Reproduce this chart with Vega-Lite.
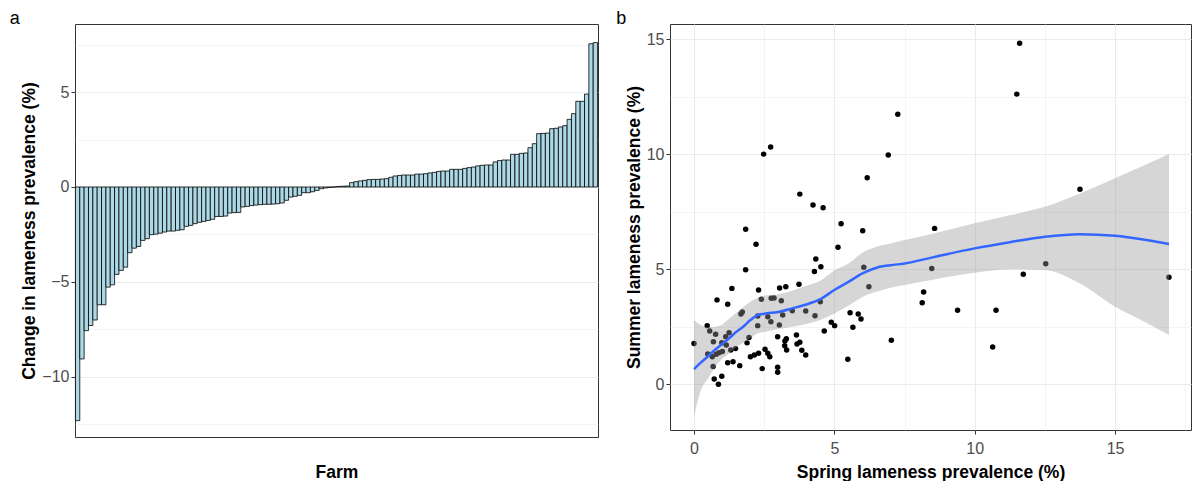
{
  "$schema": "https://vega.github.io/schema/vega-lite/v6.json",
  "background": "white",
  "padding": {"left": 9, "top": 9, "right": 0, "bottom": 0},
  "spacing": 16,
  "datasets": {
    "change": [
      {"farm": 1, "change": -12.3}, {"farm": 2, "change": -9.05}, {"farm": 3, "change": -7.56}, {"farm": 4, "change": -7.29}, {"farm": 5, "change": -7.0},
      {"farm": 6, "change": -6.2}, {"farm": 7, "change": -6.2}, {"farm": 8, "change": -5.27}, {"farm": 9, "change": -5.15}, {"farm": 10, "change": -4.6},
      {"farm": 11, "change": -4.39}, {"farm": 12, "change": -4.22}, {"farm": 13, "change": -3.46}, {"farm": 14, "change": -3.22}, {"farm": 15, "change": -3.13},
      {"farm": 16, "change": -2.81}, {"farm": 17, "change": -2.72}, {"farm": 18, "change": -2.51}, {"farm": 19, "change": -2.48}, {"farm": 20, "change": -2.43},
      {"farm": 21, "change": -2.37}, {"farm": 22, "change": -2.32}, {"farm": 23, "change": -2.32}, {"farm": 24, "change": -2.28}, {"farm": 25, "change": -2.25},
      {"farm": 26, "change": -2.07}, {"farm": 27, "change": -2.02}, {"farm": 28, "change": -1.93}, {"farm": 29, "change": -1.86}, {"farm": 30, "change": -1.81},
      {"farm": 31, "change": -1.76}, {"farm": 32, "change": -1.7}, {"farm": 33, "change": -1.55}, {"farm": 34, "change": -1.55}, {"farm": 35, "change": -1.53},
      {"farm": 36, "change": -1.37}, {"farm": 37, "change": -1.35}, {"farm": 38, "change": -1.34}, {"farm": 39, "change": -1.05}, {"farm": 40, "change": -1.02},
      {"farm": 41, "change": -0.98}, {"farm": 42, "change": -0.95}, {"farm": 43, "change": -0.93}, {"farm": 44, "change": -0.91}, {"farm": 45, "change": -0.91},
      {"farm": 46, "change": -0.9}, {"farm": 47, "change": -0.88}, {"farm": 48, "change": -0.84}, {"farm": 49, "change": -0.7}, {"farm": 50, "change": -0.53},
      {"farm": 51, "change": -0.49}, {"farm": 52, "change": -0.44}, {"farm": 53, "change": -0.3}, {"farm": 54, "change": -0.3}, {"farm": 55, "change": -0.25},
      {"farm": 56, "change": -0.18}, {"farm": 57, "change": -0.09}, {"farm": 58, "change": -0.05}, {"farm": 59, "change": -0.02}, {"farm": 60, "change": 0.0},
      {"farm": 61, "change": 0.03}, {"farm": 62, "change": 0.04}, {"farm": 63, "change": 0.05}, {"farm": 64, "change": 0.23}, {"farm": 65, "change": 0.28},
      {"farm": 66, "change": 0.32}, {"farm": 67, "change": 0.35}, {"farm": 68, "change": 0.39}, {"farm": 69, "change": 0.4}, {"farm": 70, "change": 0.4},
      {"farm": 71, "change": 0.42}, {"farm": 72, "change": 0.44}, {"farm": 73, "change": 0.51}, {"farm": 74, "change": 0.58}, {"farm": 75, "change": 0.61},
      {"farm": 76, "change": 0.63}, {"farm": 77, "change": 0.63}, {"farm": 78, "change": 0.63}, {"farm": 79, "change": 0.68}, {"farm": 80, "change": 0.68},
      {"farm": 81, "change": 0.7}, {"farm": 82, "change": 0.74}, {"farm": 83, "change": 0.77}, {"farm": 84, "change": 0.82}, {"farm": 85, "change": 0.84},
      {"farm": 86, "change": 0.84}, {"farm": 87, "change": 0.93}, {"farm": 88, "change": 0.93}, {"farm": 89, "change": 0.93}, {"farm": 90, "change": 0.98},
      {"farm": 91, "change": 1.02}, {"farm": 92, "change": 1.05}, {"farm": 93, "change": 1.11}, {"farm": 94, "change": 1.14}, {"farm": 95, "change": 1.16},
      {"farm": 96, "change": 1.16}, {"farm": 97, "change": 1.32}, {"farm": 98, "change": 1.39}, {"farm": 99, "change": 1.42}, {"farm": 100, "change": 1.42},
      {"farm": 101, "change": 1.72}, {"farm": 102, "change": 1.72}, {"farm": 103, "change": 1.77}, {"farm": 104, "change": 1.79}, {"farm": 105, "change": 2.07},
      {"farm": 106, "change": 2.28}, {"farm": 107, "change": 2.81}, {"farm": 108, "change": 2.82}, {"farm": 109, "change": 2.84}, {"farm": 110, "change": 3.07},
      {"farm": 111, "change": 3.09}, {"farm": 112, "change": 3.16}, {"farm": 113, "change": 3.23}, {"farm": 114, "change": 3.56}, {"farm": 115, "change": 3.86},
      {"farm": 116, "change": 4.51}, {"farm": 117, "change": 4.51}, {"farm": 118, "change": 4.89}, {"farm": 119, "change": 7.54}, {"farm": 120, "change": 7.6}
    ],
    "points": [
      {"spring": 11.6, "summer": 14.83}, {"spring": 11.5, "summer": 12.62}, {"spring": 7.26, "summer": 11.74}, {"spring": 2.73, "summer": 10.32},
      {"spring": 2.48, "summer": 10.01}, {"spring": 6.92, "summer": 9.97}, {"spring": 6.17, "summer": 8.98}, {"spring": 13.75, "summer": 8.48},
      {"spring": 3.77, "summer": 8.27}, {"spring": 4.24, "summer": 7.8}, {"spring": 4.6, "summer": 7.68}, {"spring": 5.24, "summer": 6.98},
      {"spring": 8.57, "summer": 6.78}, {"spring": 1.84, "summer": 6.74}, {"spring": 6.01, "summer": 6.68}, {"spring": 2.21, "summer": 6.09},
      {"spring": 5.13, "summer": 5.96}, {"spring": 4.34, "summer": 5.45}, {"spring": 12.53, "summer": 5.24}, {"spring": 4.52, "summer": 5.11},
      {"spring": 6.05, "summer": 5.09}, {"spring": 8.47, "summer": 5.03}, {"spring": 1.84, "summer": 4.98}, {"spring": 4.29, "summer": 4.9},
      {"spring": 11.73, "summer": 4.78}, {"spring": 16.92, "summer": 4.65}, {"spring": 3.74, "summer": 4.35}, {"spring": 6.23, "summer": 4.24},
      {"spring": 3.27, "summer": 4.24}, {"spring": 1.35, "summer": 4.17}, {"spring": 3.05, "summer": 4.19}, {"spring": 2.3, "summer": 4.1},
      {"spring": 8.18, "summer": 4.01}, {"spring": 2.4, "summer": 3.7}, {"spring": 2.75, "summer": 3.74}, {"spring": 2.85, "summer": 3.75},
      {"spring": 0.82, "summer": 3.67}, {"spring": 3.11, "summer": 3.63}, {"spring": 4.5, "summer": 3.59}, {"spring": 8.13, "summer": 3.55},
      {"spring": 1.2, "summer": 3.48}, {"spring": 9.39, "summer": 3.22}, {"spring": 10.76, "summer": 3.22}, {"spring": 3.5, "summer": 3.2},
      {"spring": 3.98, "summer": 3.19}, {"spring": 1.72, "summer": 3.14}, {"spring": 1.67, "summer": 3.06}, {"spring": 5.56, "summer": 3.11},
      {"spring": 5.85, "summer": 3.06}, {"spring": 3.16, "summer": 3.01}, {"spring": 4.31, "summer": 2.98}, {"spring": 2.27, "summer": 2.97},
      {"spring": 2.63, "summer": 2.94}, {"spring": 5.95, "summer": 2.84}, {"spring": 2.74, "summer": 2.72}, {"spring": 4.89, "summer": 2.7},
      {"spring": 2.27, "summer": 2.55}, {"spring": 3.04, "summer": 2.58}, {"spring": 0.47, "summer": 2.55}, {"spring": 5.01, "summer": 2.55},
      {"spring": 5.66, "summer": 2.48}, {"spring": 0.56, "summer": 2.32}, {"spring": 4.64, "summer": 2.32}, {"spring": 1.25, "summer": 2.24},
      {"spring": 0.77, "summer": 2.17}, {"spring": 3.65, "summer": 2.14}, {"spring": 1.13, "summer": 2.07}, {"spring": 2.98, "summer": 2.07},
      {"spring": 1.96, "summer": 2.03}, {"spring": 3.29, "summer": 1.98}, {"spring": 7.03, "summer": 1.91}, {"spring": 3.24, "summer": 1.88},
      {"spring": 0.69, "summer": 1.85}, {"spring": 3.77, "summer": 1.83}, {"spring": 0.99, "summer": 1.81}, {"spring": 1.89, "summer": 1.8},
      {"spring": 0.0, "summer": 1.77}, {"spring": 3.67, "summer": 1.75}, {"spring": 1.15, "summer": 1.71}, {"spring": 3.23, "summer": 1.68},
      {"spring": 10.64, "summer": 1.62}, {"spring": 1.48, "summer": 1.55}, {"spring": 2.53, "summer": 1.52}, {"spring": 1.31, "summer": 1.49},
      {"spring": 3.3, "summer": 1.49}, {"spring": 3.84, "summer": 1.48}, {"spring": 1.01, "summer": 1.42}, {"spring": 0.89, "summer": 1.37},
      {"spring": 2.3, "summer": 1.35}, {"spring": 2.63, "summer": 1.35}, {"spring": 0.49, "summer": 1.32}, {"spring": 0.79, "summer": 1.3},
      {"spring": 2.15, "summer": 1.27}, {"spring": 3.98, "summer": 1.27}, {"spring": 0.65, "summer": 1.2}, {"spring": 2.01, "summer": 1.2},
      {"spring": 2.7, "summer": 1.2}, {"spring": 5.48, "summer": 1.09}, {"spring": 1.39, "summer": 0.98}, {"spring": 1.2, "summer": 0.94},
      {"spring": 1.63, "summer": 0.81}, {"spring": 0.68, "summer": 0.77}, {"spring": 2.98, "summer": 0.74}, {"spring": 2.43, "summer": 0.68},
      {"spring": 2.98, "summer": 0.52}, {"spring": 0.99, "summer": 0.35}, {"spring": 0.72, "summer": 0.23}, {"spring": 0.87, "summer": 0.0}
    ],
    "smooth": [
      {"x": 0.0, "fit": 0.66, "lo": -1.41, "hi": 2.8},
      {"x": 0.25, "fit": 0.95, "lo": -0.25, "hi": 2.58},
      {"x": 0.5, "fit": 1.22, "lo": 0.25, "hi": 2.48},
      {"x": 0.75, "fit": 1.5, "lo": 0.75, "hi": 2.5},
      {"x": 1.0, "fit": 1.75, "lo": 1.1, "hi": 2.6},
      {"x": 1.25, "fit": 2.0, "lo": 1.35, "hi": 2.85},
      {"x": 1.5, "fit": 2.27, "lo": 1.6, "hi": 3.1},
      {"x": 1.75, "fit": 2.5, "lo": 1.8, "hi": 3.35},
      {"x": 2.0, "fit": 2.78, "lo": 2.0, "hi": 3.58},
      {"x": 2.25, "fit": 3.0, "lo": 2.2, "hi": 3.75},
      {"x": 2.5, "fit": 3.07, "lo": 2.27, "hi": 3.85},
      {"x": 3.0, "fit": 3.14, "lo": 2.4, "hi": 3.92},
      {"x": 3.5, "fit": 3.3, "lo": 2.5, "hi": 4.07},
      {"x": 4.0, "fit": 3.47, "lo": 2.62, "hi": 4.28},
      {"x": 4.5, "fit": 3.7, "lo": 2.8, "hi": 4.5},
      {"x": 5.0, "fit": 4.1, "lo": 3.08, "hi": 4.95},
      {"x": 5.5, "fit": 4.45, "lo": 3.42, "hi": 5.25},
      {"x": 6.0, "fit": 4.82, "lo": 3.8, "hi": 5.72},
      {"x": 6.5, "fit": 5.07, "lo": 4.02, "hi": 5.98},
      {"x": 7.0, "fit": 5.18, "lo": 4.2, "hi": 6.12},
      {"x": 7.5, "fit": 5.25, "lo": 4.32, "hi": 6.27},
      {"x": 8.5, "fit": 5.52, "lo": 4.55, "hi": 6.55},
      {"x": 10.0, "fit": 5.91, "lo": 4.85, "hi": 7.0},
      {"x": 11.25, "fit": 6.18, "lo": 5.0, "hi": 7.35},
      {"x": 12.5, "fit": 6.42, "lo": 4.97, "hi": 7.72},
      {"x": 13.75, "fit": 6.53, "lo": 4.38, "hi": 8.3},
      {"x": 15.0, "fit": 6.46, "lo": 3.37, "hi": 8.96},
      {"x": 16.0, "fit": 6.3, "lo": 2.75, "hi": 9.5},
      {"x": 16.92, "fit": 6.1, "lo": 2.14, "hi": 10.01}
    ]
  },
  "config": {
    "font": "Liberation Sans",
    "view": {"stroke": "#333333", "strokeWidth": 1},
    "axis": {
      "domain": false,
      "gridColor": "#EBEBEB",
      "tickColor": "#333333",
      "tickSize": 4,
      "tickWidth": 1,
      "labelColor": "#4D4D4D",
      "labelFont": "Liberation Sans",
      "labelFontSize": 16,
      "labelPadding": 2,
      "titleFont": "Liberation Sans",
      "titleFontSize": 17.5,
      "titleFontWeight": "bold",
      "titleColor": "#000000"
    },
    "title": {
      "font": "Liberation Sans",
      "fontSize": 18,
      "fontWeight": "normal",
      "color": "#000000",
      "anchor": "start",
      "frame": "bounds",
      "baseline": "alphabetic",
      "offset": -4
    }
  },
  "hconcat": [
    {
      "title": {"text": "a", "dx": -11},
      "width": 523,
      "height": 413,
      "data": {"name": "change"},
      "mark": {"type": "bar", "fill": "#ADD8E6", "stroke": "#000000", "strokeWidth": 0.8},
      "encoding": {
        "x": {
          "field": "farm",
          "type": "ordinal",
          "scale": {"paddingInner": 0, "paddingOuter": 0.1},
          "axis": {"labels": false, "ticks": false, "grid": false, "title": "Farm", "titlePadding": 26}
        },
        "y": {
          "field": "change",
          "type": "quantitative",
          "scale": {"domain": [-13.16, 8.58], "nice": false, "zero": false},
          "axis": {
            "title": "Change in lameness prevalence (%)",
            "values": [-12.5, -10, -7.5, -5, -2.5, 0, 2.5, 5, 7.5],
            "labelExpr": "datum.value % 5 === 0 ? datum.label : ''",
            "grid": true,
            "gridWidth": {"condition": {"test": "datum.value % 5 === 0", "value": 1.1}, "value": 0.55},
            "tickOpacity": {"condition": {"test": "datum.value % 5 === 0", "value": 1}, "value": 0},
            "titlePadding": 3
          }
        }
      }
    },
    {
      "title": {"text": "b", "dx": -9},
      "width": 521,
      "height": 406,
      "layer": [
        {
          "data": {"name": "points"},
          "mark": {"type": "circle", "color": "#000000", "opacity": 1, "size": 30},
          "encoding": {
            "x": {
              "field": "spring",
              "type": "quantitative",
              "scale": {"domain": [-0.855, 17.705], "nice": false, "zero": false},
              "axis": {
                "title": "Spring lameness prevalence (%)",
                "values": [0, 2.5, 5, 7.5, 10, 12.5, 15, 17.5],
                "labelExpr": "datum.value % 5 === 0 ? datum.label : ''",
                "grid": true,
                "gridWidth": {"condition": {"test": "datum.value % 5 === 0", "value": 1.1}, "value": 0.55},
                "tickOpacity": {"condition": {"test": "datum.value % 5 === 0", "value": 1}, "value": 0},
                "labelPadding": 6,
                "titlePadding": 7
              }
            },
            "y": {
              "field": "summer",
              "type": "quantitative",
              "scale": {"domain": [-1.99, 15.67], "nice": false, "zero": false},
              "axis": {
                "title": "Summer lameness prevalence (%)",
                "values": [0, 2.5, 5, 7.5, 10, 12.5, 15],
                "labelExpr": "datum.value % 5 === 0 ? datum.label : ''",
                "grid": true,
                "gridWidth": {"condition": {"test": "datum.value % 5 === 0", "value": 1.1}, "value": 0.55},
                "tickOpacity": {"condition": {"test": "datum.value % 5 === 0", "value": 1}, "value": 0},
                "titlePadding": 3
              }
            }
          }
        },
        {
          "data": {"name": "smooth"},
          "mark": {"type": "area", "color": "#999999", "opacity": 0.4, "interpolate": "monotone"},
          "encoding": {
            "x": {"field": "x", "type": "quantitative"},
            "y": {"field": "lo", "type": "quantitative"},
            "y2": {"field": "hi"}
          }
        },
        {
          "data": {"name": "smooth"},
          "mark": {"type": "line", "color": "#3366FF", "strokeWidth": 2.5, "interpolate": "monotone"},
          "encoding": {
            "x": {"field": "x", "type": "quantitative"},
            "y": {"field": "fit", "type": "quantitative"}
          }
        }
      ]
    }
  ]
}
